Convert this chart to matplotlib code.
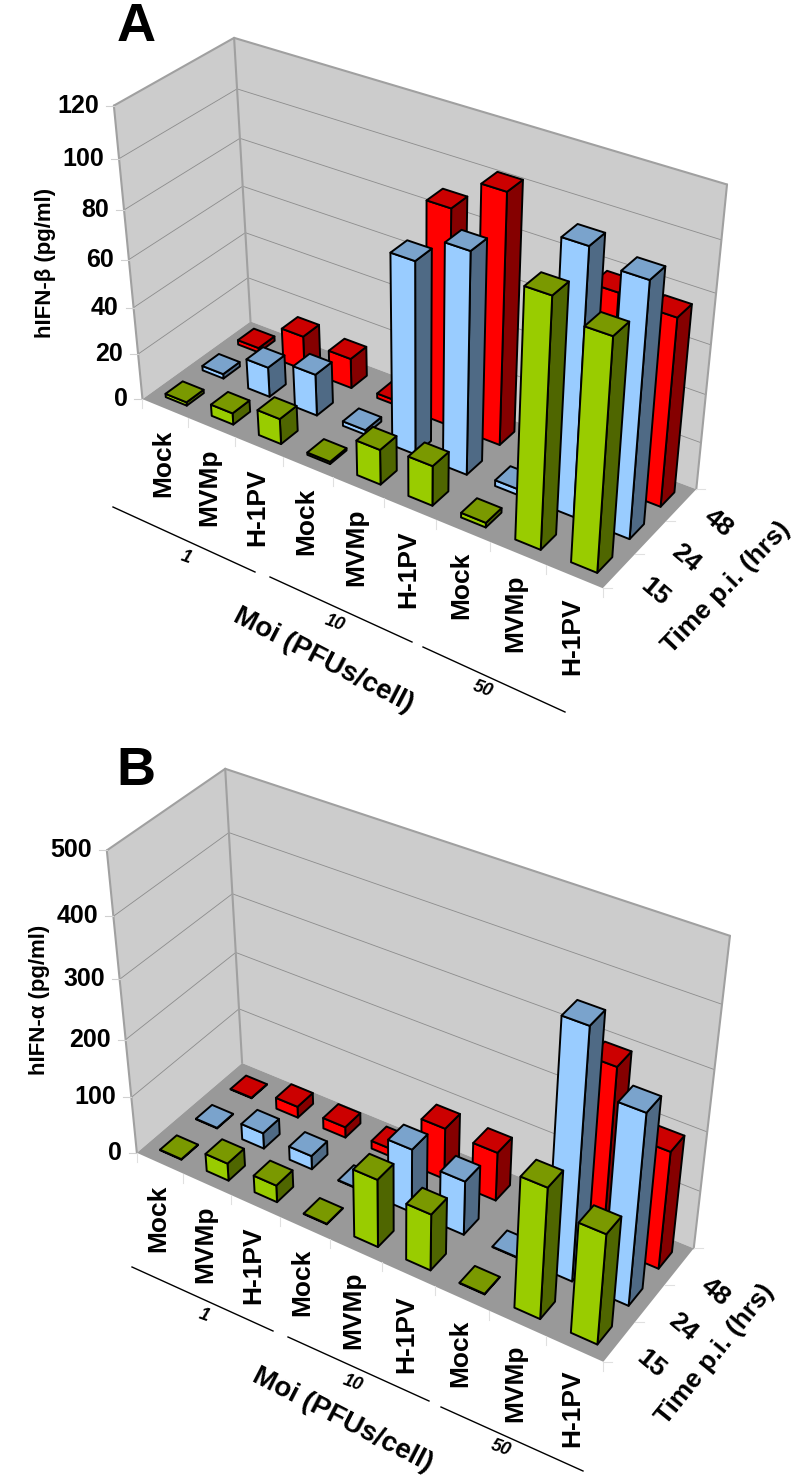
import numpy as np
import matplotlib
matplotlib.use("Agg")
import matplotlib.pyplot as plt
from matplotlib.patches import Polygon

plt.rcParams['font.family'] = ['Liberation Sans', 'DejaVu Sans']

treatments = ["Mock", "MVMp", "H-1PV"] * 3
moi_labels = ["1", "10", "50"]
hours = ["15", "24", "48"]

# hIFN-beta (pg/ml), one list per time point
beta_15 = [1.5, 5, 11, 1, 15, 17, 2, 100, 93]
beta_24 = [2, 13, 18, 2, 80, 91, 2.5, 107, 102]
beta_48 = [2, 15, 13, 2, 90, 103, 2, 79, 77]
beta_ticks = [0, 20, 40, 60, 80, 100, 120]

# hIFN-alpha (pg/ml)
alpha_15 = [1, 31, 30, 1, 118, 98, 1, 222, 187]
alpha_24 = [1, 28, 24, 1, 111, 94, 1, 415, 319]
alpha_48 = [1, 20, 19, 14, 90, 85, 2, 300, 200]
alpha_ticks = [0, 100, 200, 300, 400, 500]

# front, top, side colours for each time point
bar_colors = [("#99CC00", "#7A9900", "#4F6600"),
              ("#99CCFF", "#7AA3CC", "#4F6A85"),
              ("#FF0000", "#CC0000", "#850000")]

# where the corners of the chart box sit in the picture, (x, y, z) -> pixel
corners_a = [((0, 0, 0), (143, 399)), ((9, 0, 0), (602, 589)),
             ((0, 3, 0), (250, 322)), ((9, 3, 0), (697, 488)),
             ((0, 0, 1), (114, 105)), ((0, 3, 1), (234, 38)),
             ((9, 3, 1), (727, 185))]
corners_b = [((0, 0, 0), (137, 1153)), ((9, 0, 0), (603, 1362)),
             ((0, 3, 0), (242, 1063)), ((9, 3, 0), (694, 1248)),
             ((0, 0, 1), (107, 850)), ((0, 3, 1), (225, 769)),
             ((9, 3, 1), (730, 936))]


def fit_camera(corners):
    # direct linear transform from box coordinates to pixels
    A, b = [], []
    for (x, y, z), (u, v) in corners:
        A.append([x, y, z, 1, 0, 0, 0, 0, -u * x, -u * y, -u * z])
        A.append([0, 0, 0, 0, x, y, z, 1, -v * x, -v * y, -v * z])
        b += [u, v]
    p = np.linalg.lstsq(np.array(A, float), np.array(b, float), rcond=None)[0]
    return np.append(p, 1).reshape(3, 4)


def draw_panel(ax, corners, rows, ticks, ylabel, letter, texts):
    M = fit_camera(corners)
    zmax = ticks[-1]

    def proj(x, y, z):
        u, v, w = M @ np.array([x, y, z / zmax, 1.0])
        return u / w, v / w

    def face(pts, **kw):
        ax.add_patch(Polygon([proj(*p) for p in pts], closed=True, **kw))

    # walls and floor
    face([(0, 3, 0), (9, 3, 0), (9, 3, zmax), (0, 3, zmax)], fc="#CCCCCC", ec="none", zorder=1)
    face([(0, 0, 0), (0, 3, 0), (0, 3, zmax), (0, 0, zmax)], fc="#CCCCCC", ec="none", zorder=1)
    face([(0, 0, 0), (9, 0, 0), (9, 3, 0), (0, 3, 0)], fc="#999999", ec="none", zorder=1)

    def seg(a, b, **kw):
        pa, pb = proj(*a), proj(*b)
        ax.plot([pa[0], pb[0]], [pa[1], pb[1]], zorder=2, solid_capstyle="round", **kw)

    for t in ticks[1:-1]:
        seg((0, 0, t), (0, 3, t), color="#8C8C8C", lw=0.6)
        seg((0, 3, t), (9, 3, t), color="#8C8C8C", lw=0.6)
    for a, b in [((0, 0, 0), (0, 0, zmax)), ((0, 0, zmax), (0, 3, zmax)), ((0, 3, 0), (0, 3, zmax)),
                 ((0, 3, zmax), (9, 3, zmax)), ((9, 3, 0), (9, 3, zmax))]:
        seg(a, b, color="#A0A0A0", lw=1.5)

    # ticks, light grey outside the box
    for t in ticks:
        u, v = proj(0, 0, t)
        ax.plot([u - 8, u], [v, v], color="#D0D0D0", lw=0.8, zorder=2)
        ax.text(u - 15, v, str(t), ha="right", va="center", fontsize=18, fontweight="bold")
    for i in range(10):
        u, v = proj(i, 0, 0)
        ax.plot([u, u], [v, v + 9], color="#E0E0E0", lw=0.8, zorder=2)
    for j in range(4):
        u, v = proj(9, j, 0)
        ax.plot([u, u + 9], [v, v], color="#E0E0E0", lw=0.8, zorder=2)

    # bars, back row first and left to right so nearer ones paint over
    zo = 3
    for j in reversed(range(3)):
        front, top, side = bar_colors[j]
        for i, val in enumerate(rows[j]):
            x0, x1 = i + 0.29, i + 0.75
            y0, y1 = j + 0.27, j + 0.73
            kw = dict(ec="black", lw=1.4, joinstyle="round", zorder=zo)
            face([(x1, y0, 0), (x1, y1, 0), (x1, y1, val), (x1, y0, val)], fc=side, **kw)
            face([(x0, y0, 0), (x1, y0, 0), (x1, y0, val), (x0, y0, val)], fc=front, **kw)
            face([(x0, y0, val), (x1, y0, val), (x1, y1, val), (x0, y1, val)], fc=top, **kw)
            zo += 1

    # category labels hang below the front edge
    for i, name in enumerate(treatments):
        u, v = proj(i + 0.5, 0, 0)
        ax.text(u - 2, v + 21, name, rotation=90, ha="center", va="top", fontsize=19, fontweight="bold")

    for (xa, ya, xb, yb) in texts["lines"]:
        ax.plot([xa, xb], [ya, yb], color="black", lw=1.0, zorder=2)
    for lab, (u, v) in zip(moi_labels, texts["moi"]):
        ax.text(u, v, lab, rotation=-20, ha="center", va="center", fontsize=13,
                fontweight="bold", fontstyle="italic")
    for lab, (u, v) in zip(hours, texts["hours"]):
        ax.text(u, v, lab, rotation=-40, ha="center", va="center", fontsize=19, fontweight="bold",
                rotation_mode="anchor")

    u, v, r = texts["xtitle"]
    ax.text(u, v, "Moi (PFUs/cell)", rotation=r, ha="center", va="center", fontsize=20, fontweight="bold",
            rotation_mode="anchor")
    u, v, r = texts["ztitle"]
    ax.text(u, v, "Time p.i. (hrs)", rotation=r, ha="center", va="center", fontsize=19, fontweight="bold",
            rotation_mode="anchor")
    u, v = texts["ylabel"]
    ax.text(u, v, ylabel, rotation=90, ha="center", va="center", fontsize=16, fontweight="bold")
    u, v = texts["letter"]
    ax.text(u, v, letter, ha="center", va="center", fontsize=39, fontweight="bold")


layout_a = {
    "lines": [(113, 507, 255, 572), (270, 577, 412, 642), (423, 647, 565, 712)],
    "moi": [(186, 557), (335, 623), (483, 689)],
    "hours": [(655, 592), (686, 558), (718, 523)],
    "xtitle": (323, 660, -27.4),
    "ztitle": (726, 588, 46),
    "ylabel": (46, 263),
    "letter": (136, 27),
}
layout_b = {
    "lines": [(132, 1267, 273, 1331), (288, 1337, 429, 1401), (441, 1407, 583, 1471)],
    "moi": [(204, 1315), (353, 1383), (501, 1448)],
    "hours": [(651, 1364), (683, 1327), (715, 1292)],
    "xtitle": (342, 1420, -27.2),
    "ztitle": (715, 1354, 51),
    "ylabel": (40, 1000),
    "letter": (136, 771),
}

fig = plt.figure(figsize=(7.96, 14.79), dpi=100)
ax = fig.add_axes([0, 0, 1, 1])
ax.set_xlim(0, 796)
ax.set_ylim(1479, 0)
ax.axis("off")

draw_panel(ax, corners_a, [beta_15, beta_24, beta_48], beta_ticks, "hIFN-\u03b2 (pg/ml)", "A", layout_a)
draw_panel(ax, corners_b, [alpha_15, alpha_24, alpha_48], alpha_ticks, "hIFN-\u03b1 (pg/ml)", "B", layout_b)

fig.savefig("out.png", dpi=100)
